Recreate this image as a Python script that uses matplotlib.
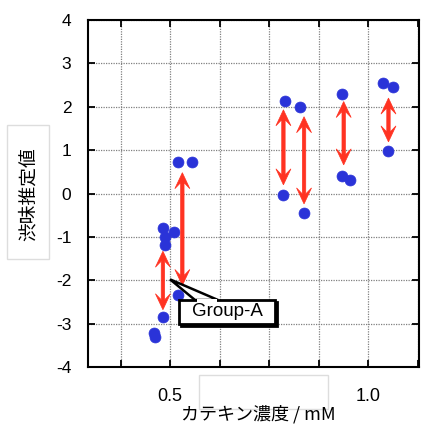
import numpy as np
import matplotlib
matplotlib.use("Agg")
import matplotlib.pyplot as plt
from matplotlib.patches import Polygon, Rectangle

# data
conc = [0.520, 0.556, 0.483, 0.509, 0.486, 0.487, 0.519, 0.481, 0.460, 0.461,
        0.789, 0.828, 0.933, 1.037, 1.062,
        0.785, 0.838, 0.934, 0.954, 1.051]
taste = [0.73, 0.73, -0.80, -0.89, -1.00, -1.18, -2.33, -2.85, -3.22, -3.30,
         2.13, 1.99, 2.30, 2.55, 2.45,
         -0.03, -0.46, 0.41, 0.30, 0.98]

arrow_x = [0.482, 0.531, 0.786, 0.838, 0.938, 1.051]
arrow_top = [-1.33, 0.48, 1.93, 1.77, 2.12, 2.20]
arrow_bottom = [-2.68, -2.12, 0.20, -0.24, 0.66, 1.19]

callout_point = (0.500, -1.98)
callout_text = "Group-A"

xticks = [0.5, 1.0]
xtick_labels = ["0.5", "1.0"]
xgrid = [0.375, 0.5, 0.625, 0.75, 0.875, 1.0, 1.125]
yticks = [-4, -3, -2, -1, 0, 1, 2, 3, 4]

BLUE = "#2a33d8"
RED = "#ff3322"
LATIN = "Liberation Sans"
JP = ["Noto Sans CJK JP", "DejaVu Sans"]

fig = plt.figure(figsize=(4.3, 4.25), dpi=100)
ax = fig.add_axes([88 / 430, 1 - 367 / 425, 331 / 430, 347 / 425])
ax.set_xlim(0.293, 1.128)
ax.set_ylim(-4, 4)

# grid
for gx in xgrid:
    ax.axvline(gx, color="#808080", lw=0.9, ls=(0, (1, 1)), zorder=0)
for gy in yticks:
    ax.axhline(gy, color="#808080", lw=0.9, ls=(0, (1, 1)), zorder=0)

ax.set_xticks(xgrid)
ax.set_xticklabels(["" if g not in xticks else xtick_labels[xticks.index(g)] for g in xgrid],
                   fontsize=13, family=LATIN)
ax.set_yticks(yticks)
ax.set_yticklabels([str(v) for v in yticks], fontsize=12.5, family=LATIN)
ax.tick_params(direction="in", length=5, width=1.3, top=True, right=True)
ax.tick_params(axis="x", pad=15)
ax.tick_params(axis="y", pad=12)
for s in ax.spines.values():
    s.set_linewidth(1.5)

ax.scatter(conc, taste, s=62, color=BLUE, edgecolors=BLUE, linewidths=0.5, zorder=4)

fig.canvas.draw()


def double_arrow(x, y0, y1):
    # build a swept-head double arrow in pixel space
    (cx, ty), = ax.transData.transform([(x, y0)])
    (_, by), = ax.transData.transform([(x, y1)])
    L, W, sw, s = 16, 7.5, 6, 1.7
    pts = [(cx, ty), (cx + W, ty - L), (cx + s, ty - L + sw),
           (cx + s, by + L - sw), (cx + W, by + L), (cx, by),
           (cx - W, by + L), (cx - s, by + L - sw),
           (cx - s, ty - L + sw), (cx - W, ty - L)]
    fig.patches.append(Polygon(pts, closed=True, transform=None, facecolor=RED,
                               edgecolor=RED, lw=0.5, zorder=5, figure=fig))


for x, y0, y1 in zip(arrow_x, arrow_top, arrow_bottom):
    double_arrow(x, y0, y1)

# callout box
(px, py), = ax.transData.transform([callout_point])
H = 425
box_l, box_r, box_t, box_b = 179, 275, H - 300, H - 324
wedge = Polygon([(px, py), (218, box_t), (195, box_t)], closed=True, transform=None,
                facecolor="white", edgecolor="black", lw=1.8, zorder=6, figure=fig)
fig.patches.append(wedge)
shadow = Rectangle((box_l + 1.5, box_b - 1.5), box_r - box_l, box_t - box_b, transform=None,
                   facecolor="black", edgecolor="black", lw=2, zorder=6.5, figure=fig)
fig.patches.append(shadow)
box = Rectangle((box_l, box_b), box_r - box_l, box_t - box_b, transform=None,
                facecolor="white", edgecolor="black", lw=2, zorder=7, figure=fig)
fig.patches.append(box)
cover = Polygon([(196.5, box_t - 1.5), (216.5, box_t - 1.5), (216.5, box_t + 1), (196.5, box_t + 1)],
                closed=True, transform=None, facecolor="white", edgecolor="none",
                zorder=8, figure=fig)
fig.patches.append(cover)
fig.text((box_l + box_r) / 2 / 430, (box_t + box_b) / 2 / H, callout_text,
         ha="center", va="center", fontsize=13.5, family=LATIN, zorder=9)

# leftover empty label boxes
fig.patches.append(Rectangle((7, H - 259), 42, 134, transform=None, facecolor="none",
                             edgecolor="#dddddd", lw=1, figure=fig))
fig.patches.append(Rectangle((199, H - 409), 129, 34, transform=None, facecolor="none",
                             edgecolor="#dddddd", lw=1, figure=fig))

fig.text(28 / 430, 1 - 194 / H, "渋味推定値", rotation=90, ha="center", va="center",
         fontsize=13.5, family=JP)
fig.text(258 / 430, 1 - 405 / H, "カテキン濃度 / mM", ha="center", va="top",
         fontsize=13, family=JP)

fig.savefig("out.png", dpi=100)
